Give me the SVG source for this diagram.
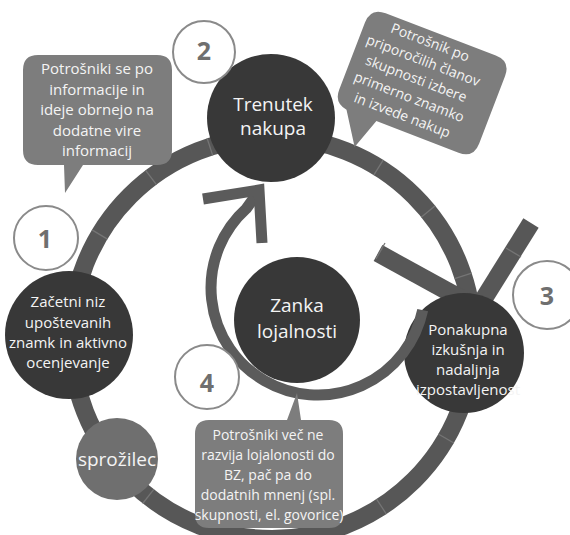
<svg xmlns="http://www.w3.org/2000/svg" width="570" height="535" viewBox="0 0 570 535">
  <style>
    .band { fill: none; stroke: #575757; stroke-width: 18; }
    .sep { stroke: #757575; stroke-width: 1.3; }
    .loop { fill: none; stroke: #5b5b5b; stroke-width: 11; }
    .dark { fill: #383838; }
    .bubble { fill: #7d7d7d; }
    .num { fill: #ffffff; stroke: #8a8a8a; stroke-width: 2; }
    .numtxt { font-family: "Open Sans", "DejaVu Sans", sans-serif; font-weight: bold; font-size: 25px; fill: #6f6f6f; text-anchor: middle; }
    .lbl { font-family: "Open Sans", "DejaVu Sans", sans-serif; fill: #f4f4f4; text-anchor: middle; }
    .s15 { font-size: 15px; }
    .s14 { font-size: 14px; }
    .s19 { font-size: 19px; }
  </style>

  <rect width="570" height="535" fill="#ffffff"/>

  <g id="connectors">
    <!-- outer cycle ring -->
    <circle class="band" cx="272" cy="338" r="201"/>
    <!-- segment seams along the ring -->
    <g class="sep" transform="translate(272 338)">
      <line x1="192" y1="0" x2="210" y2="0" transform="rotate(30)"/>
      <line x1="192" y1="0" x2="210" y2="0" transform="rotate(57)"/>
      <line x1="192" y1="0" x2="210" y2="0" transform="rotate(128)"/>
      <line x1="192" y1="0" x2="210" y2="0" transform="rotate(211)"/>
      <line x1="192" y1="0" x2="210" y2="0" transform="rotate(233)"/>
      <line x1="192" y1="0" x2="210" y2="0" transform="rotate(252)"/>
      <line x1="192" y1="0" x2="210" y2="0" transform="rotate(302)"/>
      <line x1="192" y1="0" x2="210" y2="0" transform="rotate(321)"/>
      <line x1="192" y1="0" x2="210" y2="0" transform="rotate(342)"/>
    </g>
    <!-- arrowhead arms on the ring pointing into stage 3 -->
    <line x1="378" y1="253" x2="478" y2="308" stroke="#575757" stroke-width="18"/>
    <line x1="531" y1="223" x2="478" y2="308" stroke="#575757" stroke-width="18"/>
    <line class="sep" x1="385" y1="243" x2="376" y2="259"/>
    <line class="sep" x1="506" y1="248" x2="521" y2="257"/>
  </g>

  <!-- Stage nodes -->
  <g id="node-trenutek">
    <circle class="dark" cx="271" cy="118" r="64"/>
    <text class="lbl s19" x="273" y="111">Trenutek</text>
    <text class="lbl s19" x="273" y="135">nakupa</text>
  </g>

  <g id="node-zacetni">
    <circle class="dark" cx="69" cy="335" r="64"/>
    <text class="lbl s15" x="68" y="307">Začetni niz</text>
    <text class="lbl s15" x="68" y="328">upoštevanih</text>
    <text class="lbl s15" x="68" y="348">znamk in aktivno</text>
    <text class="lbl s15" x="68" y="368">ocenjevanje</text>
  </g>

  <g id="node-sprozilec">
    <circle cx="117" cy="459" r="41" fill="#6f6f6f"/>
    <text class="lbl s19" x="117" y="466">sprožilec</text>
  </g>

  <g id="node-ponakupna">
    <circle class="dark" cx="464" cy="353" r="60"/>
    <text class="lbl s15" x="468" y="335">Ponakupna</text>
    <text class="lbl s15" x="468" y="355">izkušnja in</text>
    <text class="lbl s15" x="468" y="375">nadaljnja</text>
    <text class="lbl s15" x="468" y="395">izpostavljenost</text>
  </g>

  <!-- loyalty loop arrow -->
  <g id="loop-arrow">
    <path class="loop" d="M 422.7 310.2 A 107 107 0 1 1 246.4 208.5 L 259 191"/>
    <polyline class="loop" points="203,199 259,190 262,243" stroke-linejoin="miter"/>
  </g>

  <g id="node-zanka">
    <circle class="dark" cx="297" cy="320" r="63"/>
    <text class="lbl s19" x="297" y="312">Zanka</text>
    <text class="lbl s19" x="297" y="338">lojalnosti</text>
  </g>

  <!-- Callouts -->
  <g id="callout-1">
    <path class="bubble" d="M 38 55 H 157 Q 172 55 172 70 V 150 Q 172 165 157 165 H 83 L 65 193 L 64 165 H 38 Q 23 165 23 150 V 70 Q 23 55 38 55 Z"/>
    <text class="lbl s15" x="97" y="74">Potrošniki se po</text>
    <text class="lbl s15" x="97" y="94.5">informacije in</text>
    <text class="lbl s15" x="97" y="115">ideje obrnejo na</text>
    <text class="lbl s15" x="97" y="135.5">dodatne vire</text>
    <text class="lbl s15" x="97" y="156">informacij</text>
  </g>

  <g id="callout-2" transform="translate(420 80) rotate(21)">
    <path class="bubble" d="M -56 -50 H 62 Q 78 -50 78 -34 V 38 Q 78 54 62 54 H -26 L -37 86 L -58 54 Q -72 52 -72 38 V -34 Q -72 -50 -56 -50 Z"/>
    <g transform="translate(-4 0)">
      <text class="lbl s14" x="0" y="-34">Potrošnik po</text>
      <text class="lbl s14" x="0" y="-14.5">priporočilih članov</text>
      <text class="lbl s14" x="0" y="5">skupnosti izbere</text>
      <text class="lbl s14" x="0" y="24.5">primerno znamko</text>
      <text class="lbl s14" x="0" y="44">in izvede nakup</text>
    </g>
  </g>

  <g id="callout-4">
    <path class="bubble" d="M 209 420 H 287 L 297 393 L 301 420 H 329 Q 343 420 343 434 V 514 Q 343 528 329 528 H 209 Q 195 528 195 514 V 434 Q 195 420 209 420 Z"/>
    <text class="lbl s14" x="268" y="440">Potrošniki več ne</text>
    <text class="lbl s14" x="268" y="460">razvija lojalonosti do</text>
    <text class="lbl s14" x="268" y="480">BZ, pač pa do</text>
    <text class="lbl s14" x="268" y="500">dodatnih mnenj (spl.</text>
    <text class="lbl s14" x="269" y="520">skupnosti, el. govorice)</text>
  </g>

  <!-- Step numbers -->
  <g id="step-1">
    <circle class="num" cx="46" cy="238" r="32"/>
    <text class="numtxt" x="45" y="248">1</text>
  </g>
  <g id="step-2">
    <circle class="num" cx="204" cy="52" r="31"/>
    <text class="numtxt" x="204" y="60">2</text>
  </g>
  <g id="step-3">
    <circle class="num" cx="547" cy="295" r="34"/>
    <text class="numtxt" x="547" y="305">3</text>
  </g>
  <g id="step-4">
    <circle class="num" cx="207" cy="377" r="32"/>
    <text class="numtxt" x="207" y="392">4</text>
  </g>
</svg>
